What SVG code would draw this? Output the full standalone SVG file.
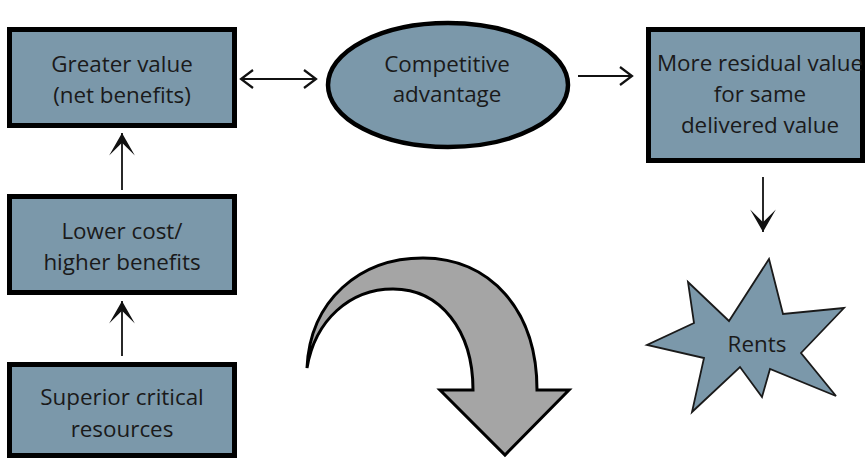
<svg xmlns="http://www.w3.org/2000/svg" width="867" height="460" viewBox="0 0 867 460">
<style>
.box{fill:#7b98aa;stroke:#000;stroke-width:5}
.lbl{font-family:"Open Sans","Noto Sans",sans-serif;font-size:22.4px;fill:#1a1a1a;text-anchor:middle}
.ln{stroke:#111;stroke-width:1.8;fill:none}
</style>
<defs>
<marker id="chev" markerUnits="userSpaceOnUse" markerWidth="20" markerHeight="24" viewBox="-14 -12 16 24" refX="0" refY="0" orient="auto-start-reverse">
<path d="M-12,-9 L0,0 L-12,9" fill="none" stroke="#111" stroke-width="2.2"/>
</marker>
<marker id="barb" markerUnits="userSpaceOnUse" markerWidth="30" markerHeight="30" viewBox="-24 -14 26 28" refX="0" refY="0" orient="auto">
<path d="M0,0 L-21,-12 L-9,0 L-21,12 Z" fill="#111"/>
</marker>
</defs>
<g id="connectors">
<line class="ln" x1="241" y1="79" x2="316" y2="79" marker-start="url(#chev)" marker-end="url(#chev)"/>
<line class="ln" x1="578" y1="76" x2="632" y2="76" marker-end="url(#chev)"/>
<line class="ln" x1="122" y1="190" x2="122" y2="133" marker-end="url(#barb)"/>
<line class="ln" x1="122" y1="356" x2="122" y2="301" marker-end="url(#barb)"/>
<line class="ln" x1="763" y1="177" x2="763" y2="232" marker-end="url(#barb)"/>
</g>
<g id="node-greater-value">
<rect class="box" x="9.5" y="29.5" width="225" height="96"/>
<text class="lbl" x="122" y="72">Greater value</text>
<text class="lbl" x="122" y="103">(net benefits)</text>
</g>
<g id="node-lower-cost">
<rect class="box" x="9.5" y="196.5" width="225" height="96"/>
<text class="lbl" x="122" y="239">Lower cost/</text>
<text class="lbl" x="122" y="270">higher benefits</text>
</g>
<g id="node-superior">
<rect class="box" x="9.5" y="364.5" width="225" height="91"/>
<text class="lbl" x="122" y="405">Superior critical</text>
<text class="lbl" x="122" y="437">resources</text>
</g>
<g id="node-competitive">
<ellipse cx="448" cy="85" rx="120" ry="62" fill="#7b98aa" stroke="#000" stroke-width="4.5"/>
<text class="lbl" x="447" y="72">Competitive</text>
<text class="lbl" x="447" y="102">advantage</text>
</g>
<g id="node-residual">
<rect class="box" x="648.5" y="29.5" width="214" height="131"/>
<text class="lbl" x="760" y="71">More residual value</text>
<text class="lbl" x="760" y="102">for same</text>
<text class="lbl" x="760" y="133">delivered value</text>
</g>
<g id="node-rents">
<polygon points="769,259 783,314 844,308 801,353 836,396 770,369 762,397 740,367 692,412 704,358 647,345 694,323 688,282 729,321" fill="#7b98aa" stroke="#1a1a1a" stroke-width="1.8" stroke-linejoin="miter"/>
<text class="lbl" x="757" y="352">Rents</text>
</g>
<g id="curved-arrow">
<path d="M307,368 C310,300 360,258 423,258 C490,258 537,310 537,390 L569,390 L505,455 L440,390 L473,390 C473,330 440,289 393,289 C350,289 315,320 307,368 Z" fill="#a5a5a5" stroke="#000" stroke-width="3" stroke-linejoin="miter"/>
</g>
</svg>
